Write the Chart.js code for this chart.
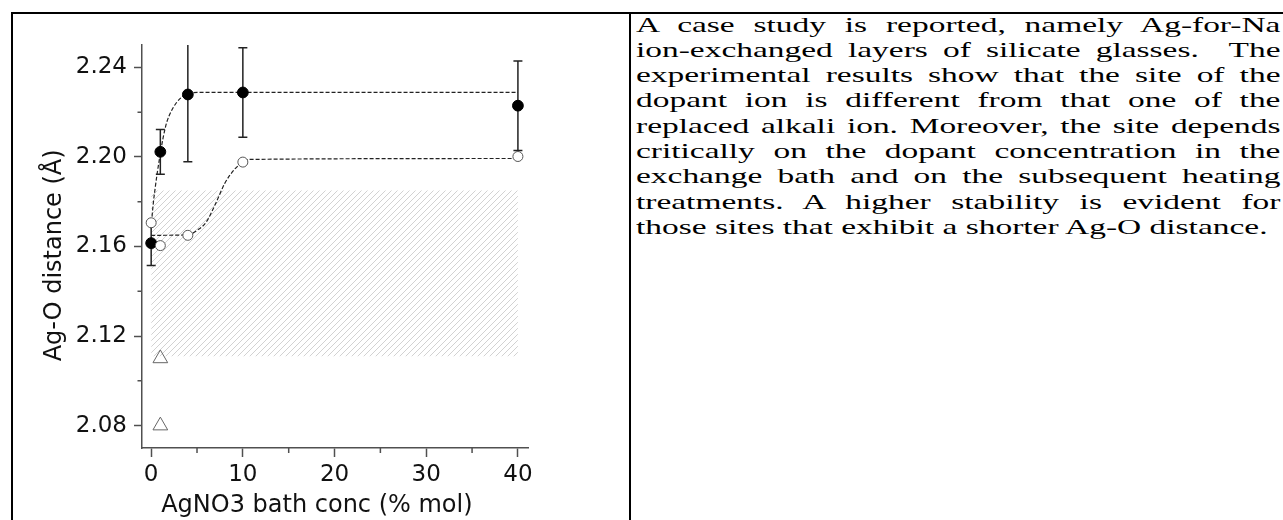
<!DOCTYPE html>
<html>
<head>
<meta charset="utf-8">
<script src="https://cdn.jsdelivr.net/npm/chart.js@4/dist/chart.umd.min.js"></script>
<style>
  html, body { margin: 0; padding: 0; background: #fff; }
  body { width: 1283px; height: 520px; position: relative; overflow: hidden; }
  #frame { position: absolute; left: 11px; top: 12px; width: 1300px; height: 520px;
           border-top: 2px solid #000; border-left: 2px solid #000; }
  #divider { position: absolute; left: 629px; top: 12px; width: 2px; height: 520px; background: #000; }
  #chartBox { position: absolute; left: 0; top: 0; width: 620px; height: 520px; }
  #text { position: absolute; left: 636px; top: 11.5px; width: 424px;
          font-family: "Liberation Serif", "Times New Roman", serif; font-size: 22px;
          line-height: 25.3px; color: #000; transform: scaleX(1.52); transform-origin: 0 0; }
  #text span { display: block; text-align: justify; text-align-last: justify; }
  #text span.last { text-align-last: left; }
</style>
</head>
<body>
<div id="frame"></div>
<div id="divider"></div>
<div id="chartBox"><canvas id="myChart" width="620" height="520"></canvas></div>
<div id="text">
  <span>A case study is reported, namely Ag-for-Na</span>
  <span>ion-exchanged layers of silicate glasses.&nbsp; The</span>
  <span>experimental results show that the site of the</span>
  <span>dopant ion is different from that one of the</span>
  <span>replaced alkali ion. Moreover, the site depends</span>
  <span>critically on the dopant concentration in the</span>
  <span>exchange bath and on the subsequent heating</span>
  <span>treatments. A higher stability is evident for</span>
  <span class="last">those sites that exhibit a shorter Ag-O distance.</span>
</div>
<script>
// bath concentration (% mol) of the measured samples
const concX = [0, 1, 4, 10, 40];
// filled circles with error bars
const distFilled = [2.1615, 2.2023, 2.2279, 2.2288, 2.2229];
const errFilled = [0.010, 0.010, 0.030, 0.020, 0.020];
// open circles
const distOpen = [2.1706, 2.1604, 2.1650, 2.1977, 2.2002];
// open triangles
const triX = [1, 1];
const triY = [2.110, 2.080];
// dashed guide curves
const upperFitX = [0, 0.1, 0.25, 0.45, 0.65, 0.9, 1.3, 1.7, 2.2, 2.75, 3.3, 4, 5, 40];
const upperFitY = [2.168, 2.1735, 2.180, 2.1865, 2.1925, 2.199, 2.2085, 2.2155, 2.2205, 2.2242, 2.2266, 2.2282, 2.2288, 2.2288];
const lowerFitX = [0, 4, 5, 6, 7.1, 8, 9.1, 10, 10.6, 40];
const lowerFitY = [2.1650, 2.1652, 2.1672, 2.1709, 2.1798, 2.1880, 2.1945, 2.1977, 2.1989, 2.1993];
// hatched band
const bandX = [0, 40];
const bandTop = 2.185;
const bandBottom = 2.111;
// axes
const xTicks = [0, 10, 20, 30, 40];
const xMinorTicks = [5, 15, 25, 35];
const yTicks = [2.08, 2.12, 2.16, 2.20, 2.24];
const yMinorTicks = [2.10, 2.14, 2.18, 2.22];
const xTitle = 'AgNO3 bath conc (% mol)';
const yTitle = 'Ag-O distance (\u00C5)';

const axisColor = '#505050';
const tickFont = { family: 'DejaVu Sans', size: 23 };

function pts(xs, ys) {
    return xs.map((x, i) => ({ x: x, y: ys[i] }));
}

function hatchPattern() {
    const c = document.createElement('canvas');
    c.width = 6; c.height = 6;
    const g = c.getContext('2d');
    g.strokeStyle = '#d2d2d2';
    g.lineWidth = 1;
    g.beginPath();
    g.moveTo(0, 6); g.lineTo(6, 0);
    g.moveTo(-1, 1); g.lineTo(1, -1);
    g.moveTo(5, 7); g.lineTo(7, 5);
    g.stroke();
    return g.createPattern(c, 'repeat');
}

// error bars drawn just before the filled circles
const errorBars = {
    id: 'errorBars',
    beforeDatasetDraw(chart, args) {
        if (args.index !== 2) return;
        const ctx = chart.ctx, xs = chart.scales.x, ys = chart.scales.y, a = chart.chartArea;
        ctx.save();
        ctx.beginPath();
        ctx.rect(a.left, a.top, a.right - a.left, a.bottom - a.top);
        ctx.clip();
        ctx.strokeStyle = '#222';
        ctx.lineWidth = 1.5;
        ctx.beginPath();
        concX.forEach((x, i) => {
            const px = xs.getPixelForValue(x);
            const hi = ys.getPixelForValue(distFilled[i] + errFilled[i]);
            const lo = ys.getPixelForValue(distFilled[i] - errFilled[i]);
            ctx.moveTo(px, hi); ctx.lineTo(px, lo);
            ctx.moveTo(px - 4.5, hi); ctx.lineTo(px + 4.5, hi);
            ctx.moveTo(px - 4.5, lo); ctx.lineTo(px + 4.5, lo);
        });
        ctx.stroke();
        ctx.restore();
    }
};

// short minor ticks and the axis titles
const axisExtras = {
    id: 'axisExtras',
    afterDraw(chart) {
        const ctx = chart.ctx, xs = chart.scales.x, ys = chart.scales.y, a = chart.chartArea;
        ctx.save();
        ctx.strokeStyle = axisColor;
        ctx.lineWidth = 1.5;
        ctx.beginPath();
        xMinorTicks.forEach(v => {
            const px = xs.getPixelForValue(v);
            ctx.moveTo(px, a.bottom); ctx.lineTo(px, a.bottom + 5);
        });
        yMinorTicks.forEach(v => {
            const py = ys.getPixelForValue(v);
            ctx.moveTo(a.left, py); ctx.lineTo(a.left - 4.5, py);
        });
        ctx.stroke();

        ctx.fillStyle = '#111';
        ctx.font = '24px "DejaVu Sans"';
        ctx.textAlign = 'center';
        ctx.textBaseline = 'alphabetic';
        ctx.fillText(xTitle, a.left + (a.right - a.left) * 0.453, a.bottom + 64);
        ctx.translate(a.left - 81, a.top + (a.bottom - a.top) * 0.522);
        ctx.rotate(-Math.PI / 2);
        ctx.fillText(yTitle, 0, 0);
        ctx.restore();
    }
};

const data = {
    datasets: [
        {   // open triangles
            data: pts(triX, triY),
            showLine: false,
            pointStyle: 'triangle',
            pointRadius: 8.5,
            backgroundColor: 'rgba(0,0,0,0)',
            borderColor: '#666',
            borderWidth: 1,
            order: 0
        },
        {   // open circles
            data: pts(concX, distOpen),
            showLine: false,
            pointRadius: 5,
            backgroundColor: '#fff',
            borderColor: '#555',
            borderWidth: 1,
            order: 1
        },
        {   // filled circles
            data: pts(concX, distFilled),
            showLine: false,
            pointRadius: 5.4,
            backgroundColor: '#000',
            borderColor: '#000',
            borderWidth: 1,
            order: 2
        },
        {   // upper guide curve
            data: pts(upperFitX, upperFitY),
            showLine: true,
            borderColor: '#222',
            borderWidth: 1.2,
            borderDash: [4, 2],
            pointRadius: 0,
            cubicInterpolationMode: 'monotone',
            fill: false,
            order: 3
        },
        {   // lower guide curve
            data: pts(lowerFitX, lowerFitY),
            showLine: true,
            borderColor: '#222',
            borderWidth: 1.2,
            borderDash: [4, 2],
            pointRadius: 0,
            cubicInterpolationMode: 'monotone',
            fill: false,
            order: 4
        },
        {   // hatched band
            data: bandX.map(x => ({ x: x, y: bandTop })),
            showLine: true,
            borderWidth: 0,
            borderColor: 'rgba(0,0,0,0)',
            pointRadius: 0,
            backgroundColor: hatchPattern(),
            fill: { value: bandBottom },
            order: 5
        }
    ]
};

const config = {
    type: 'scatter',
    data: data,
    options: {
        responsive: false,
        animation: false,
        layout: { padding: { left: 0, top: 45, right: 92, bottom: 0 } },
        plugins: {
            legend: { display: false },
            tooltip: { enabled: false }
        },
        scales: {
            x: {
                type: 'linear',
                min: -1,
                max: 41.1,
                grid: { drawOnChartArea: false, drawTicks: true, tickLength: 9, tickColor: axisColor, tickWidth: 1.5 },
                border: { color: axisColor, width: 1.5 },
                ticks: { font: tickFont, color: '#111', padding: 4, maxRotation: 0 },
                afterBuildTicks: s => { s.ticks = xTicks.map(v => ({ value: v })); },
                afterFit: s => { s.height = 72; }
            },
            y: {
                type: 'linear',
                min: 2.07,
                max: 2.25,
                grid: { drawOnChartArea: false, drawTicks: true, tickLength: 8, tickColor: axisColor, tickWidth: 1.5 },
                border: { color: axisColor, width: 1.5 },
                ticks: { font: tickFont, color: '#111', padding: 7, callback: v => v.toFixed(2) },
                afterBuildTicks: s => { s.ticks = yTicks.map(v => ({ value: v })); },
                afterFit: s => { s.width = 142; }
            }
        }
    },
    plugins: [errorBars, axisExtras]
};

// Render the chart
const ctx = document.getElementById('myChart').getContext('2d');
const myChart = new Chart(ctx, config);
</script>
</body>
</html>
